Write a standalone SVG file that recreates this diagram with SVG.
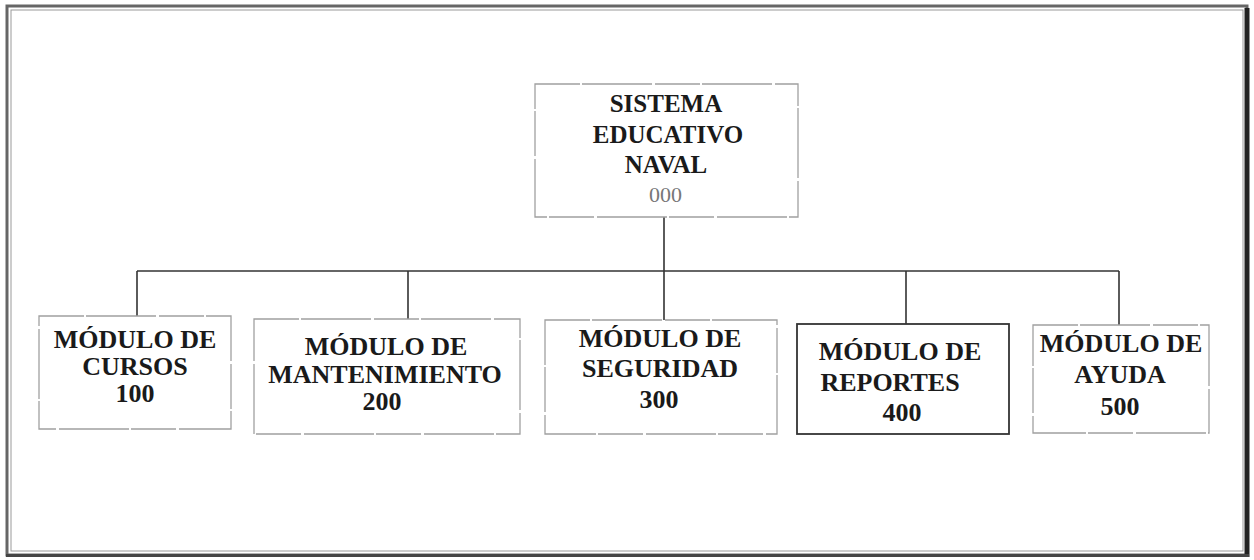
<svg xmlns="http://www.w3.org/2000/svg" width="1254" height="560" viewBox="0 0 1254 560">
<style>
.box{fill:#fff;stroke:#a0a0a0;stroke-width:1.3;stroke-dasharray:45 2 70 3}
.boxs{fill:#fff;stroke:#333;stroke-width:1.8}
.t{font-family:"Liberation Serif","Times New Roman",serif;font-weight:bold;font-size:26px;fill:#1a1a1a;text-anchor:middle}
.tr{font-family:"Liberation Serif","Times New Roman",serif;font-weight:bold;font-size:25px;fill:#1a1a1a;text-anchor:middle}
.n{font-family:"Liberation Serif","Times New Roman",serif;font-size:22px;fill:#777;text-anchor:middle}
.c{fill:none;stroke:#333;stroke-width:1.6}
</style>
<rect width="1254" height="560" fill="#fff"/>
<g id="frame">
<rect x="7" y="6" width="1240" height="549" fill="none" stroke="#666" stroke-width="3"/>
<rect x="11" y="10" width="1232" height="541" fill="none" stroke="#999" stroke-width="1"/>
<line x1="1247" y1="8" x2="1247" y2="557" stroke="#222" stroke-width="5"/>
<line x1="6" y1="555.5" x2="1249" y2="555.5" stroke="#444" stroke-width="3"/>
</g>
<g id="connectors">
<path class="c" d="M664 217 V271"/>
<path class="c" d="M137 271 H1119"/>
<path class="c" d="M137 271 V316"/>
<path class="c" d="M408 271 V319"/>
<path class="c" d="M664 271 V320"/>
<path class="c" d="M906 271 V324"/>
<path class="c" d="M1119 271 V325"/>
</g>
<g id="n000">
<rect class="box" x="535" y="84" width="263" height="133"/>
<text class="tr" x="666" y="112">SISTEMA</text>
<text class="tr" x="668" y="143">EDUCATIVO</text>
<text class="tr" x="666" y="173">NAVAL</text>
<text class="n" x="665.5" y="202">000</text>
</g>
<g id="n100">
<rect class="box" x="39" y="316" width="192" height="113"/>
<text class="t" x="135" y="348">MÓDULO DE</text>
<text class="t" x="135" y="375">CURSOS</text>
<text class="t" x="135" y="402">100</text>
</g>
<g id="n200">
<rect class="box" x="254" y="319" width="266" height="115"/>
<text class="t" x="386" y="355">MÓDULO DE</text>
<text class="t" x="385" y="383">MANTENIMIENTO</text>
<text class="t" x="382" y="410">200</text>
</g>
<g id="n300">
<rect class="box" x="545" y="320" width="232" height="114"/>
<text class="t" x="660" y="347">MÓDULO DE</text>
<text class="t" x="660" y="377">SEGURIDAD</text>
<text class="t" x="659" y="408">300</text>
</g>
<g id="n400">
<rect class="boxs" x="797" y="324" width="212" height="110"/>
<text class="t" x="900" y="360">MÓDULO DE</text>
<text class="t" x="890" y="391">REPORTES</text>
<text class="t" x="902" y="421">400</text>
</g>
<g id="n500">
<rect class="box" x="1033" y="325" width="176" height="108"/>
<text class="t" x="1121" y="352">MÓDULO DE</text>
<text class="t" x="1120" y="383">AYUDA</text>
<text class="t" x="1120" y="415">500</text>
</g>
</svg>
